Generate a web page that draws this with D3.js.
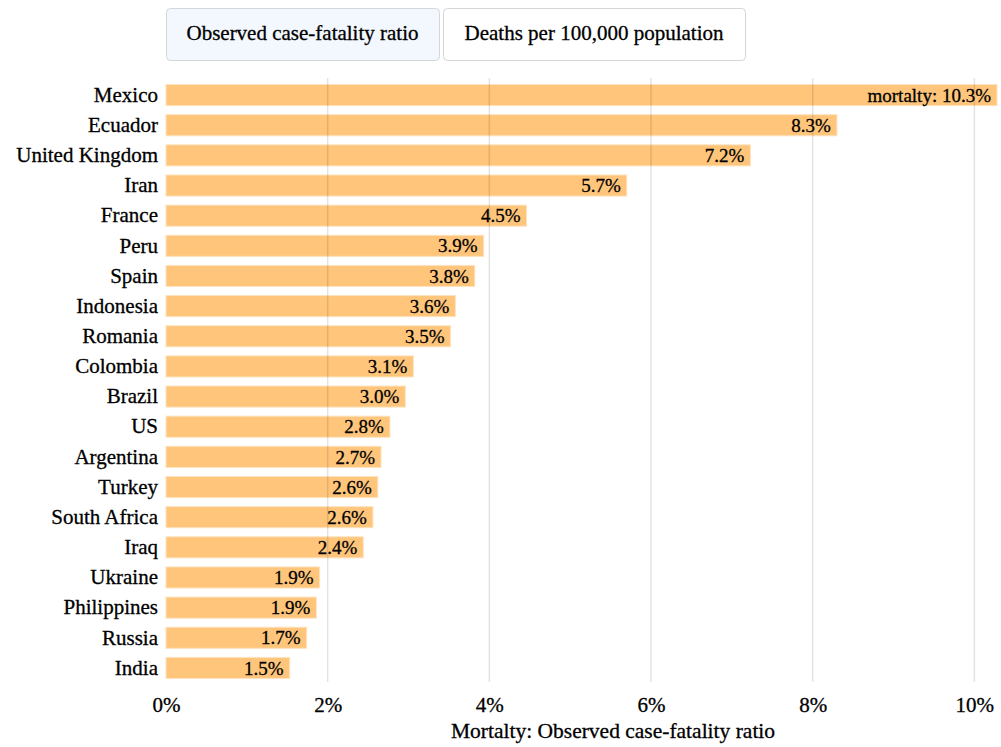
<!DOCTYPE html>
<html>
<head>
<meta charset="utf-8">
<script src="https://cdn.jsdelivr.net/npm/d3@7"></script>
<style>
  body { margin: 0; background: #fff; }
  svg text { font-family: "Liberation Serif", "Times New Roman", serif; fill: #000; stroke: #000; stroke-width: 0.3px; }
</style>
</head>
<body>
<div id="chart"></div>
<script>
// countries, top to bottom
let countries = ["Mexico", "Ecuador", "United Kingdom", "Iran", "France", "Peru", "Spain",
	"Indonesia", "Romania", "Colombia", "Brazil", "US", "Argentina", "Turkey",
	"South Africa", "Iraq", "Ukraine", "Philippines", "Russia", "India"];

// observed case-fatality ratio, percent
let mortality = [10.28, 8.30, 7.23, 5.70, 4.46, 3.93, 3.82, 3.58, 3.52, 3.06, 2.96,
	2.77, 2.66, 2.62, 2.56, 2.44, 1.90, 1.86, 1.74, 1.53];

let x_ticks = [0, 2, 4, 6, 8, 10];
let button_labels = ["Observed case-fatality ratio", "Deaths per 100,000 population"];

let data = countries.map((c, i) => ({country: c, value: mortality[i]}));

let margin = {top: 80, right: 4, bottom: 64, left: 166};
let width = 1001 - margin.left - margin.right;
let height = 747 - margin.top - margin.bottom;

let svg = d3.select("#chart")
	.append("svg")
	.attr("width", 1001)
	.attr("height", 747);

// toggle buttons on top
let btn_x = [166, 443];
let btn_w = [273, 302];
let buttons = svg.append("g").attr("class", "buttons");
button_labels.forEach((label, i) => {
	buttons.append("rect")
		.attr("x", btn_x[i] + 0.5)
		.attr("y", 8.5)
		.attr("width", btn_w[i])
		.attr("height", 52)
		.attr("rx", 4)
		.attr("fill", i === 0 ? "#f3f8fe" : "#ffffff")
		.attr("stroke", "#d3d5d8");
	buttons.append("text")
		.attr("x", btn_x[i] + btn_w[i] / 2)
		.attr("y", 40)
		.attr("text-anchor", "middle")
		.style("font-size", "21px")
		.text(label);
});

let g = svg.append("g")
	.attr("transform", "translate(" + margin.left + "," + margin.top + ")");

//scales
let x_scale = d3.scaleLinear()
	.domain([0, d3.max(mortality)])
	.range([0, width]);

let y_scale = d3.scaleBand()
	.domain(countries)
	.range([0, 603])
	.paddingInner(0.3)
	.paddingOuter(0.15);

//bars
g.selectAll("rect.bar")
	.data(data)
	.enter()
	.append("rect")
	.attr("class", "bar")
	.attr("x", 0)
	.attr("y", d => y_scale(d.country))
	.attr("width", d => x_scale(d.value))
	.attr("height", y_scale.bandwidth())
	.attr("fill", "#fec57b")
	.attr("stroke", "#fde3bf")
	.attr("stroke-width", 1);

//grid lines drawn over bars
g.selectAll("line.grid")
	.data(x_ticks.slice(1))
	.enter()
	.append("line")
	.attr("class", "grid")
	.attr("x1", d => x_scale(d))
	.attr("x2", d => x_scale(d))
	.attr("y1", -2)
	.attr("y2", 602)
	.attr("stroke", "rgba(0,0,0,0.11)")
	.attr("stroke-width", 1.5);

//value labels inside the bars
g.selectAll("text.value")
	.data(data)
	.enter()
	.append("text")
	.attr("class", "value")
	.attr("x", d => x_scale(d.value) - 6)
	.attr("y", d => y_scale(d.country) + y_scale.bandwidth() / 2)
	.attr("dy", "0.35em")
	.attr("text-anchor", "end")
	.style("font-size", "19px")
	.text((d, i) => (i === 0 ? "mortalty: " : "") + d.value.toFixed(1) + "%");

//country labels
let y_axis = d3.axisLeft(y_scale).tickSize(0).tickPadding(8);
g.append("g")
	.attr("class", "y_axis")
	.call(y_axis)
	.call(a => a.select(".domain").remove())
	.selectAll("text")
	.style("font-size", "21px")
	.style("font-family", "Liberation Serif, serif")
	.attr("fill", "#000");

//x axis
let x_axis = d3.axisBottom(x_scale)
	.tickValues(x_ticks)
	.tickSize(0)
	.tickPadding(14)
	.tickFormat(d => d + "%");
g.append("g")
	.attr("class", "x_axis")
	.attr("transform", "translate(0," + 603 + ")")
	.call(x_axis)
	.call(a => a.select(".domain").remove())
	.selectAll("text")
	.style("font-size", "21px")
	.style("font-family", "Liberation Serif, serif")
	.attr("fill", "#000");

//x axis title
svg.append("text")
	.attr("x", 613)
	.attr("y", 738)
	.attr("text-anchor", "middle")
	.style("font-size", "21.5px")
	.text("Mortalty: Observed case-fatality ratio");
</script>
</body>
</html>
